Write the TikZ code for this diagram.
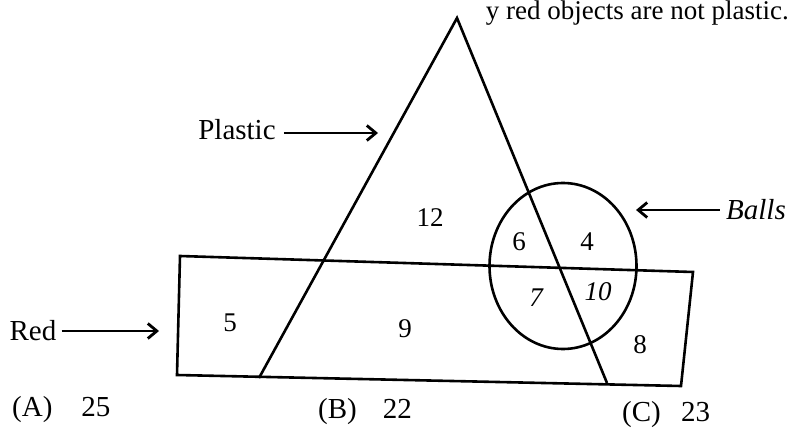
\documentclass[tikz,border=0pt]{standalone}
\usepackage{fontspec}
\setmainfont{Liberation Serif}
\usetikzlibrary{arrows.meta,shapes.geometric}
\begin{document}
\begin{tikzpicture}[x=1pt,y=-1pt,
  shape line/.style={line width=2.6pt,black},
  lbl/.style={font=\fontsize{29}{32}\selectfont,inner sep=0pt},
  num/.style={font=\fontsize{27}{30}\selectfont,inner sep=0pt},
  itnum/.style={font=\itshape\fontsize{27}{30}\selectfont,inner sep=0pt},
  pointer/.style={line width=2.8pt,-{Straight Barb[length=9pt,width=15pt,line width=2.8pt]}}]
\useasboundingbox (0,0) rectangle (793,433);
% top text
\node[font=\fontsize{27}{29}\selectfont,inner sep=0pt,anchor=north east] (toptext) at (789,1) {y red objects are not plastic.};
% triangle
\coordinate (apex) at (457,18);
\coordinate (tbl) at (259,378);
\coordinate (tbr) at (607,383);
\draw[shape line,line join=miter] (tbl) -- (apex) -- (tbr);
% red quadrilateral
\coordinate (rtl) at (180,256);
\coordinate (rtr) at (693,272);
\coordinate (rbr) at (681,386);
\coordinate (rbl) at (177,375);
\draw[shape line] (rtl) -- (rtr) -- (rbr) -- (rbl) -- cycle;
% balls circle
\node[draw,shape line,ellipse,minimum width=147pt,minimum height=166pt,inner sep=0pt] (balls) at (563,266) {};
% region numbers
\node[num] (n12) at (430,218) {12};
\node[num] (n6) at (519,242) {6};
\node[num] (n4) at (587,242) {4};
\node[itnum] (n7) at (536,298) {7};
\node[itnum] (n10) at (598,292) {10};
\node[num] (n8) at (640,345) {8};
\node[num] (n5) at (230,323) {5};
\node[num] (n9) at (405,329) {9};
% labels and pointers
\node[lbl] (plastic) at (237,130) {Plastic};
\coordinate (pend) at (378,133);
\path (plastic.east) ++(8,3) coordinate (pstart);
\draw[pointer] (pstart) -- (pend);
\node[lbl,font=\itshape\fontsize{29}{32}\selectfont] (ballslbl) at (756,210) {Balls};
\coordinate (bend) at (636,210);
\path (ballslbl.west) ++(-6,0) coordinate (bstart);
\draw[pointer] (bstart) -- (bend);
\node[lbl] (red) at (33,331) {Red};
\coordinate (rend) at (159,331);
\path (red.east) ++(5,0) coordinate (rstart);
\draw[pointer] (rstart) -- (rend);
% answer options
\node[lbl,anchor=west] (optA) at (12,410) {(A)\hspace{1em}25};
\node[lbl,anchor=west] (optB) at (318,412) {(B)\hspace{0.9em}22};
\node[lbl,anchor=west] (optC) at (622,415) {(C)\hspace{0.7em}23};
\end{tikzpicture}
\end{document}
